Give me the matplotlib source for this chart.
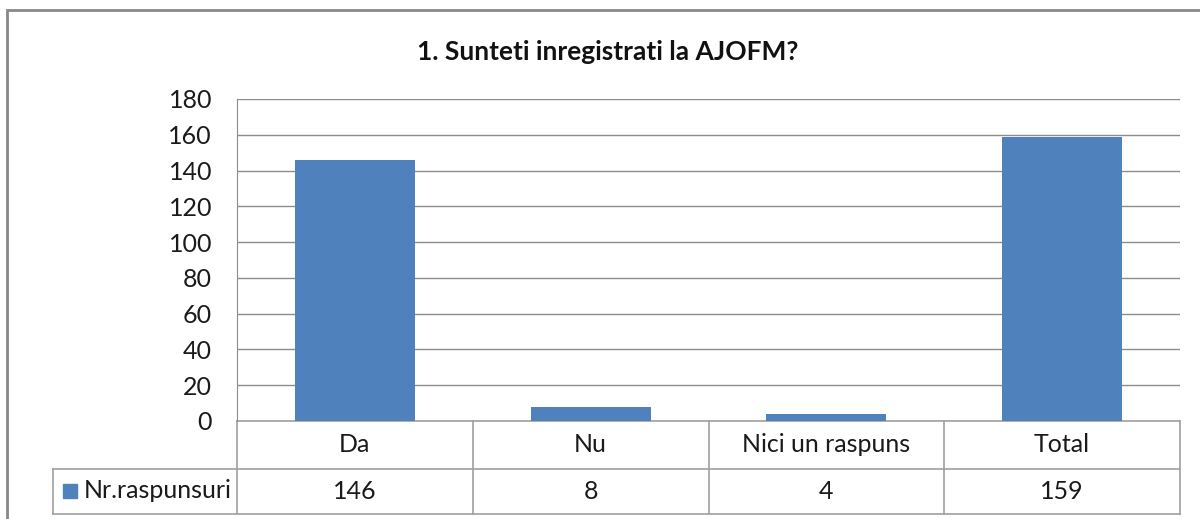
import matplotlib.pyplot as plt
from matplotlib.patches import Rectangle
from matplotlib.lines import Line2D
import matplotlib.transforms as mtransforms

categories = ["Da", "Nu", "Nici un raspuns", "Total"]
values = [146, 8, 4, 159]
series_name = "Nr.raspunsuri"
title = "1. Sunteti inregistrati la AJOFM?"

plt.rcParams['font.family'] = ['Lato', 'DejaVu Sans']

W, H = 1200, 519
fig = plt.figure(figsize=(W / 100, H / 100), dpi=100)

bar_color = "#4F81BD"
grid_color = "#8C8C8C"
line_color = "#A0A0A0"
txt = "#1a1a1a"
fs = 18

# outer chart frame (runs off right/bottom edge like the screenshot)
fig.patches.append(Rectangle((7 / W, -0.05), 1.1, 1 - 10 / H + 0.05,
                             transform=fig.transFigure, fill=False,
                             edgecolor="#888888", linewidth=2))

x0, x1 = 237, 1180
y_top, y_bot = 99, 421
ax = fig.add_axes([x0 / W, 1 - y_bot / H, (x1 - x0) / W, (y_bot - y_top) / H])

xs = list(range(len(categories)))
ax.bar(xs, values, width=0.51, color=bar_color, zorder=3)
ax.set_xlim(-0.5, len(categories) - 0.5)
ax.set_ylim(0, 180)
ax.set_yticks(range(0, 181, 20))
ax.yaxis.grid(True, color=grid_color, linewidth=1)
ax.set_axisbelow(True)
ax.set_xticks([])
ax.tick_params(axis='y', length=0, pad=18, labelsize=fs, labelcolor=txt)
for s in ["top", "right", "bottom"]:
    ax.spines[s].set_visible(False)
ax.spines["left"].set_color(grid_color)

fig.text(608 / W, 1 - 52 / H, title, ha="center", va="center",
         fontsize=19, fontweight="bold", color="#111111")

# data table under the axis
tr = mtransforms.blended_transform_factory(ax.transData, ax.transAxes)
ph = y_bot - y_top
r1 = -(469 - y_bot) / ph
r2 = -(514 - y_bot) / ph
left_cell = -0.5 - (x0 - 53) / (x1 - x0) * len(categories)

def hline(xa, xb, y):
    ax.add_line(Line2D([xa, xb], [y, y], transform=tr, color=line_color,
                       linewidth=1.2, clip_on=False))

def vline(x, ya, yb):
    ax.add_line(Line2D([x, x], [ya, yb], transform=tr, color=line_color,
                       linewidth=1.2, clip_on=False))

last = len(categories) - 0.5
hline(-0.5, last, 0)
hline(left_cell, last, r1)
hline(left_cell, last, r2)
vline(left_cell, r1, r2)
for i in range(len(categories) + 1):
    vline(i - 0.5, 0, r2)

for i, (c, v) in enumerate(zip(categories, values)):
    ax.text(i, r1 / 2, c, transform=tr, ha="center", va="center",
            fontsize=fs, color=txt)
    ax.text(i, (r1 + r2) / 2, str(v), transform=tr, ha="center", va="center",
            fontsize=fs, color=txt)

fig.patches.append(Rectangle((63 / W, 1 - 498 / H), 14 / W, 14 / H,
                             transform=fig.transFigure, color=bar_color))
fig.text(84 / W, 1 - 491 / H, series_name, ha="left", va="center",
         fontsize=fs, color=txt)

fig.savefig("out.png", dpi=100)
